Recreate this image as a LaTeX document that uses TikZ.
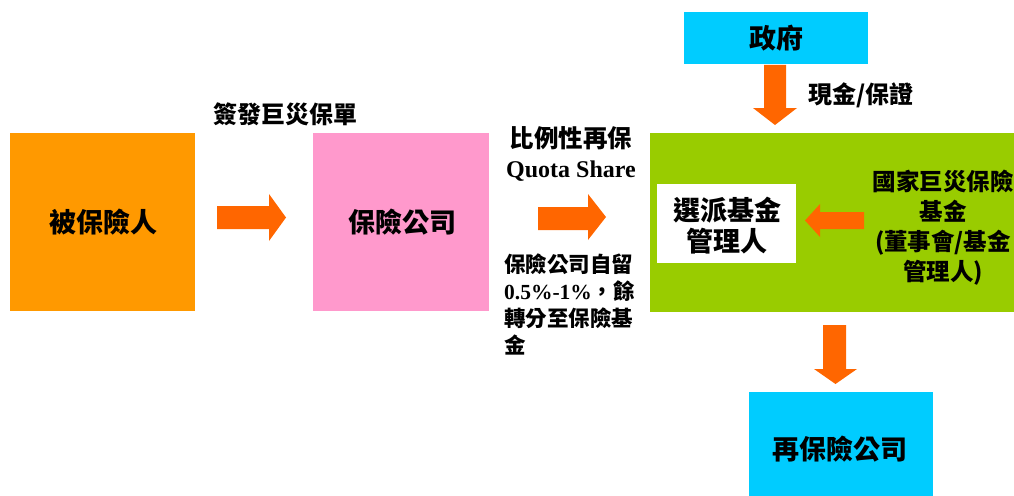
\documentclass[tikz,border=0pt]{standalone}
\usepackage{fontspec}
\setmainfont{Noto Sans CJK TC}
\newfontfamily\lat{Liberation Serif}
\definecolor{orangebox}{HTML}{FF9900}
\definecolor{pinkbox}{HTML}{FF99CC}
\definecolor{greenbox}{HTML}{99CC00}
\definecolor{cyanbox}{HTML}{00CCFF}
\definecolor{arrowc}{HTML}{FF6600}
\tikzset{
  boxtext/.style={inner sep=0pt, font=\fontsize{27}{31}\selectfont\bfseries},
  lbl/.style={inner sep=0pt, font=\fontsize{24}{30}\selectfont\bfseries},
  blockarrow/.style={fill=arrowc, draw=none},
}
\begin{document}
\begin{tikzpicture}[x=1pt,y=-1pt]
\useasboundingbox (0,0) rectangle (1014,495);
% boxes
\path[fill=orangebox] (10,133) rectangle (195,311);
\node[boxtext] (insured) at (103,222) {被保險人};
\path[fill=pinkbox] (313,133) rectangle (489,311);
\node[boxtext] (insurer) at (402,222) {保險公司};
\path[fill=greenbox] (650,133) rectangle (1030,312);
\node[fill=white, minimum width=139pt, minimum height=79pt, inner sep=0pt] (mgrbox) at (726.5,223.5) {};
\node[boxtext, align=center] (mgr) at (727,226) {選派基金\\管理人};
\node[inner sep=0pt, align=center, font=\fontsize{23.5}{30}\selectfont\bfseries] (fund) at (943,228)
  {國家巨災保險\\基金\\(董事會/基金\\管理人)};
\path[fill=cyanbox] (684,12) rectangle (868,64);
\node[boxtext] (gov) at (776,38) {政府};
\path[fill=cyanbox] (749,392) rectangle (933,500);
\node[boxtext] (reins) at (840,449) {再保險公司};
% labels
\node[lbl] (l1) at (285,114) {簽發巨災保單};
\node[lbl, anchor=west] (l2) at (808,95) {現金/保證};
\node[inner sep=0pt, align=center, font=\fontsize{24.5}{30}\selectfont\bfseries] (l3) at (571,153.5) {比例性再保\\{\lat\fontsize{24}{30}\selectfont\bfseries Quota Share}};
\node[inner sep=0pt, align=left, anchor=north west, font=\fontsize{21.5}{27}\selectfont\bfseries] (l4) at (504,254)
  {保險公司自留\\{\lat\bfseries 0.5\%-1\%}，餘\\轉分至保險基\\金};
% block arrows
\path[blockarrow] (217,206) -- (269,206) -- (269,194) -- (286,217.5) -- (269,241) -- (269,229) -- (217,229) -- cycle;
\path[blockarrow] (538,207) -- (588,207) -- (588,194) -- (606,217) -- (588,240) -- (588,230) -- (538,230) -- cycle;
\path[blockarrow] (764,65) -- (786,65) -- (786,108) -- (797,108) -- (775,125) -- (753,108) -- (764,108) -- cycle;
\path[blockarrow] (864,212) -- (820,212) -- (820,204) -- (805,220.5) -- (820,237) -- (820,229) -- (864,229) -- cycle;
\path[blockarrow] (823,325) -- (846,325) -- (846,369) -- (857,369) -- (835.5,384) -- (814,369) -- (823,369) -- cycle;
\end{tikzpicture}
\end{document}
